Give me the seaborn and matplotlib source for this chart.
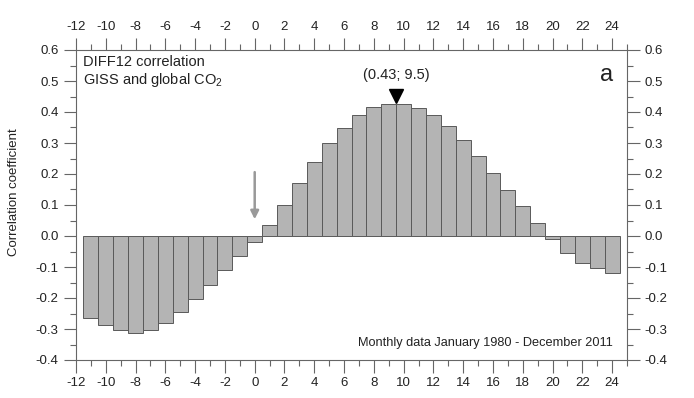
import numpy as np
import pandas as pd
import seaborn as sns
import matplotlib
matplotlib.use('Agg')
import matplotlib.pyplot as plt
from matplotlib.ticker import MultipleLocator

# Data (lag in months, correlation)

lags = list(range(-11, 25))
corr = [-0.264, -0.287, -0.302, -0.312, -0.304, -0.280, -0.246, -0.202, -0.157, -0.110,
        -0.066, -0.020, 0.034, 0.101, 0.170, 0.240, 0.300, 0.350, 0.390, 0.415,
        0.427, 0.427, 0.412, 0.390, 0.356, 0.309, 0.258, 0.204, 0.147, 0.096,
        0.042, -0.009, -0.055, -0.086, -0.102, -0.118]

peak_lag = 9.5
peak_val = 0.43
arrow_lag = 0

df = pd.DataFrame({'lag': lags, 'corr': corr})

sns.set_style('ticks')
plt.rcParams['font.family'] = ['Liberation Sans', 'DejaVu Sans']
plt.rcParams['mathtext.fontset'] = 'custom'
plt.rcParams['mathtext.rm'] = 'Liberation Sans'
plt.rcParams['mathtext.it'] = 'Liberation Sans'
plt.rcParams['axes.unicode_minus'] = False

fig = plt.figure(figsize=(6.94, 3.98), dpi=100)
ax = fig.add_axes([76/694, 1 - 360/398, 551/694, 310/398])

sns.barplot(data=df, x='lag', y='corr', native_scale=True, width=1, color='#b4b4b4',
            saturation=1, edgecolor='#5a5a5a', linewidth=0.7, ax=ax)

ax.set_xlim(-12, 25)
ax.set_ylim(-0.4, 0.6)

ax.xaxis.set_major_locator(MultipleLocator(2))
ax.xaxis.set_minor_locator(MultipleLocator(1))
ax.yaxis.set_major_locator(MultipleLocator(0.1))
ax.yaxis.set_minor_locator(MultipleLocator(0.05))
ax.yaxis.set_major_formatter(plt.FuncFormatter(lambda v, p: f'{v:.1f}'))

ax.tick_params(which='both', direction='out', top=True, right=True,
               labeltop=True, labelright=True, color='#666666', labelcolor='#222222',
               labelsize=9.5, width=0.8)
ax.tick_params(which='major', length=9)
ax.tick_params(which='minor', length=4.5)
for s in ax.spines.values():
    s.set_visible(True)
    s.set_color('#666666')
    s.set_linewidth(0.8)

ax.set_xlabel('')
ax.set_ylabel('')
fig.text(14/694, 1 - 192/398, 'Correlation coefficient', rotation=90, ha='center', va='center',
         fontsize=9.5, color='#222222')

# peak marker and label
ax.plot([peak_lag], [0.453], marker='v', color='black', markersize=10, linestyle='none')
ax.text(peak_lag, 0.52, f'({peak_val}; {peak_lag})', ha='center', va='center',
        fontsize=10.5, color='#222222')

# gray arrow at lag 0
ax.annotate('', xy=(arrow_lag, 0.045), xytext=(arrow_lag, 0.215),
            arrowprops=dict(arrowstyle='-|>', color='#999999', lw=1.8, mutation_scale=12))

ax.text(0.013, 0.961, 'DIFF12 correlation', transform=ax.transAxes, ha='left', va='center',
        fontsize=10.5, color='#222222')
ax.text(0.013, 0.903, r'GISS and global CO$_2$', transform=ax.transAxes, ha='left', va='center',
        fontsize=10.5, color='#222222')
ax.text(0.963, 0.92, 'a', transform=ax.transAxes, ha='center', va='center',
        fontsize=17, color='#222222')
ax.text(0.975, 0.055, 'Monthly data January 1980 - December 2011', transform=ax.transAxes,
        ha='right', va='center', fontsize=9.2, color='#222222')

plt.savefig('out.png', dpi=100)
